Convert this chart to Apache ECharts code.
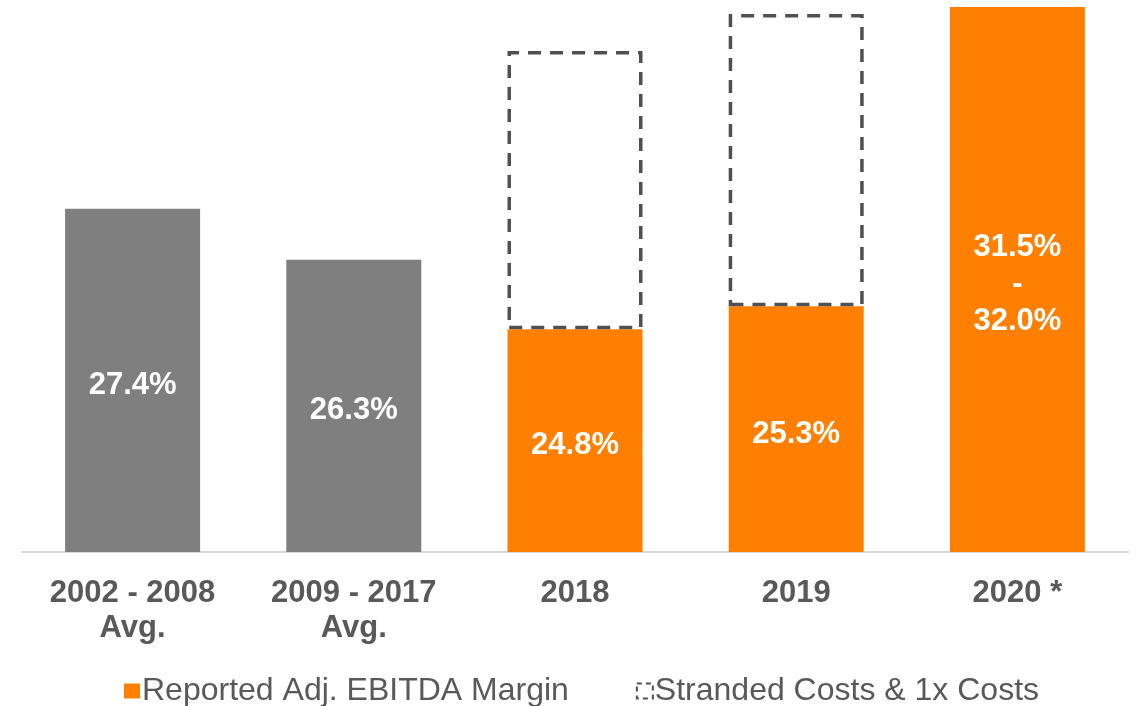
<!DOCTYPE html>
<html>
<head>
<meta charset="utf-8">
<script src="https://cdn.jsdelivr.net/npm/echarts@6/dist/echarts.min.js"></script>
<style>
    html, body { margin: 0; padding: 0; background: #fff; }
    #main { width: 1137px; height: 706px; }
</style>
</head>
<body>
<div id="main"></div>
<script>
    // categories and values
    var categories = ['2002 - 2008\nAvg.', '2009 - 2017\nAvg.', '2018', '2019', '2020 *'];
    var margin = [27.4, 26.3, 24.8, 25.3, 31.75];
    var marginLabels = ['27.4%', '26.3%', '24.8%', '25.3%', '31.5%\n-\n32.0%'];
    var stranded = ['-', '-', 6.0, 6.3, '-'];
    var historic = [true, true, false, false, false];

    var orange = '#FF8000';
    var grey = '#7F7F7F';
    var dash = '#505050';

    var chart = echarts.init(document.getElementById('main'));
    chart.setOption({
        animation: false,
        textStyle: { fontFamily: 'Liberation Sans, Arial, sans-serif' },
        grid: { left: 22, right: 9, top: 7, bottom: 154 },
        legend: {
            top: 670,
            left: 119,
            itemGap: 67,
            itemWidth: 16,
            itemHeight: 15,
            icon: 'rect',
            textStyle: { fontSize: 32, color: '#595959', padding: [0, 0, 0, -3] },
            data: [
                { name: 'Reported Adj. EBITDA Margin' },
                {
                    name: 'Stranded Costs & 1x Costs',
                    itemStyle: { color: 'rgba(255,255,255,0)', borderColor: dash, borderWidth: 2, borderType: [5, 4] }
                }
            ]
        },
        xAxis: {
            type: 'category',
            data: categories,
            axisTick: { show: false },
            axisLine: { lineStyle: { color: '#D9D9D9', width: 2 } },
            axisLabel: {
                margin: 24,
                fontSize: 31,
                fontWeight: 'bold',
                color: '#595959',
                lineHeight: 35
            }
        },
        yAxis: {
            type: 'value',
            min: 20,
            max: 31.75,
            show: false,
            splitLine: { show: false }
        },
        series: [{
            name: 'Reported Adj. EBITDA Margin',
            type: 'bar',
            stack: 'total',
            barWidth: 135,
            itemStyle: { color: orange },
            data: margin.map(function (v, i) {
                return { value: v, itemStyle: { color: historic[i] ? grey : orange } };
            }),
            label: {
                show: true,
                position: 'inside',
                offset: [0, 5],
                color: '#fff',
                fontSize: 31,
                fontWeight: 'bold',
                lineHeight: 37,
                formatter: function (p) { return marginLabels[p.dataIndex]; }
            }
        }, {
            name: 'Stranded Costs & 1x Costs',
            type: 'bar',
            stack: 'total',
            barWidth: 135,
            itemStyle: {
                color: 'rgba(255,255,255,0)',
                borderColor: dash,
                borderWidth: 3.5,
                borderType: [13, 9]
            },
            data: stranded
        }]
    });
</script>
</body>
</html>
